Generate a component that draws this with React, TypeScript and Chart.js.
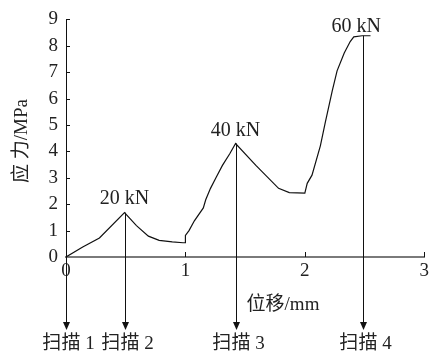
import React, { useEffect, useRef } from 'react';
import { Chart, registerables } from 'chart.js';

Chart.register(...registerables);

// Displacement (mm) and stress (MPa) of the curve
const displacement = [0, 0.14, 0.28, 0.49, 0.59, 0.69, 0.78, 0.89, 0.98, 1.0, 1.0, 1.03, 1.075, 1.15, 1.17, 1.21, 1.26, 1.31, 1.37, 1.42, 1.59, 1.78, 1.87, 2.0, 2.02, 2.06, 2.13, 2.17, 2.23, 2.27, 2.33, 2.38, 2.41, 2.48, 2.55];
const stress = [0, 0.38, 0.72, 1.68, 1.19, 0.79, 0.63, 0.57, 0.54, 0.54, 0.82, 1.0, 1.37, 1.86, 2.17, 2.6, 3.04, 3.47, 3.9, 4.3, 3.47, 2.6, 2.44, 2.42, 2.79, 3.1, 4.21, 5.07, 6.3, 7.05, 7.73, 8.16, 8.34, 8.38, 8.38];

// Scan arrows
const scanLabels = ['扫描 1', '扫描 2', '扫描 3', '扫描 4'];
const scanX = [0, 0.49, 1.42, 2.49];
const scanFrom = [0, 1.68, 4.3, 8.38];

// Load annotations
const loadLabels = ['20 kN', '40 kN', '60 kN'];
const loadX = [0.49, 1.42, 2.43];
const loadY = [2.19, 4.77, 8.72];

// Axis ticks
const xTicks = [0, 1, 2, 3];
const yTicks = [0, 1, 2, 3, 4, 5, 6, 7, 8, 9];

const FONT = '"Liberation Serif", "Times New Roman", "Noto Sans CJK SC", serif';
const TEXT = '#222';

const overlay = {
  id: 'overlay',
  afterDraw(chart: any) {
    const ctx = chart.ctx as CanvasRenderingContext2D;
    const xs = chart.scales.x;
    const ys = chart.scales.y;
    ctx.save();
    // inward tick marks
    ctx.strokeStyle = '#111';
    ctx.lineWidth = 1;
    yTicks.forEach((v) => {
      if (v === 0) return;
      const py = Math.round(ys.getPixelForValue(v)) + 0.5;
      ctx.beginPath();
      ctx.moveTo(xs.left, py);
      ctx.lineTo(xs.left + 4, py);
      ctx.stroke();
    });
    xTicks.forEach((v) => {
      if (v === 0) return;
      const px = Math.round(xs.getPixelForValue(v)) + 0.5;
      ctx.beginPath();
      ctx.moveTo(px, ys.bottom);
      ctx.lineTo(px, ys.bottom - 5);
      ctx.stroke();
    });

    // scan arrows
    const tipY = ys.bottom + 73;
    ctx.fillStyle = '#111';
    scanX.forEach((sx, i) => {
      const px = Math.round(xs.getPixelForValue(sx)) + 0.5;
      const top = ys.getPixelForValue(scanFrom[i]);
      ctx.beginPath();
      ctx.moveTo(px, top);
      ctx.lineTo(px, tipY - 6);
      ctx.stroke();
      ctx.beginPath();
      ctx.moveTo(px - 3.5, tipY - 8);
      ctx.lineTo(px + 3.5, tipY - 8);
      ctx.lineTo(px, tipY);
      ctx.closePath();
      ctx.fill();
      ctx.fillStyle = TEXT;
      ctx.font = '19px ' + FONT;
      ctx.textAlign = 'center';
      ctx.textBaseline = 'middle';
      ctx.fillText(scanLabels[i], px + 2, tipY + 14);
      ctx.fillStyle = '#111';
    });

    // load labels
    ctx.fillStyle = TEXT;
    ctx.font = '20px ' + FONT;
    ctx.textAlign = 'center';
    ctx.textBaseline = 'middle';
    loadLabels.forEach((t, i) => {
      ctx.fillText(t, xs.getPixelForValue(loadX[i]), ys.getPixelForValue(loadY[i]));
    });

    // axis titles
    ctx.font = '19px ' + FONT;
    ctx.fillText('位移/mm', 283, ys.bottom + 48);
    ctx.save();
    ctx.translate(22, 141);
    ctx.rotate(-Math.PI / 2);
    ctx.fillText('应 力/MPa', 0, 0);
    ctx.restore();
    ctx.restore();
  },
};

export default function App() {
  const ref = useRef<HTMLCanvasElement | null>(null);
  useEffect(() => {
    if (!ref.current) return;
    const chart = new Chart(ref.current, {
      type: 'line',
      data: {
        datasets: [
          {
            data: displacement.map((x, i) => ({ x, y: stress[i] })),
            borderColor: '#111',
            borderWidth: 1.2,
            pointRadius: 0,
            tension: 0,
            fill: false,
          },
        ],
      },
      options: {
        responsive: false,
        animation: false,
        layout: { padding: { top: 14, right: 6, left: 0, bottom: 0 } },
        plugins: { legend: { display: false }, tooltip: { enabled: false } },
        scales: {
          x: {
            type: 'linear',
            min: 0,
            max: 3,
            afterBuildTicks: (s: any) => {
              s.ticks = xTicks.map((v) => ({ value: v }));
            },
            ticks: { font: { family: FONT, size: 19 }, color: TEXT, padding: 3 },
            grid: { display: false, drawTicks: false },
            border: { display: true, color: '#7a7a7a', width: 2 },
            afterFit: (s: any) => {
              s.height = 100;
            },
          },
          y: {
            type: 'linear',
            min: 0,
            max: 9,
            afterBuildTicks: (s: any) => {
              s.ticks = yTicks.map((v) => ({ value: v }));
            },
            ticks: { font: { family: FONT, size: 19 }, color: TEXT, padding: 8 },
            grid: { display: false, drawTicks: false },
            border: { display: true, color: '#111', width: 1 },
            afterFit: (s: any) => {
              s.width = 66;
            },
          },
        },
      },
      plugins: [overlay],
    });
    return () => chart.destroy();
  }, []);
  return (
    <div style={{ position: 'absolute', left: 0, top: 0, width: 432, height: 357 }}>
      <canvas ref={ref} width={432} height={357} />
    </div>
  );
}
